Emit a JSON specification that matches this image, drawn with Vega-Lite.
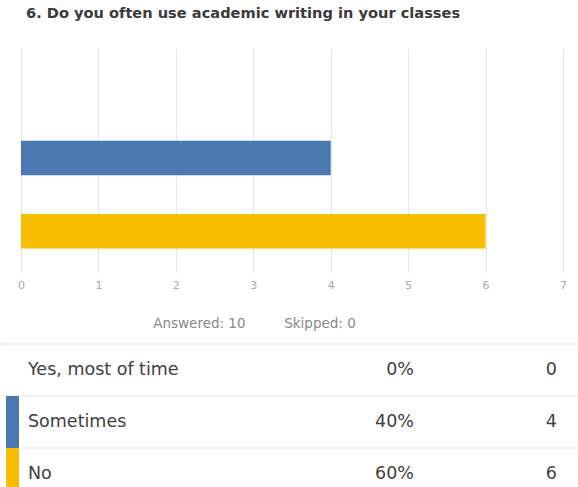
{
  "$schema": "https://vega.github.io/schema/vega-lite/v6.json",
  "padding": {"top": 5, "left": 0, "right": 0, "bottom": 0},
  "background": "white",
  "config": {"view": {"stroke": null}, "font": "DejaVu Sans"},
  "datasets": {
    "answers": [
      {"answer": "Yes, most of time", "count": 0, "percent": "0%"},
      {"answer": "Sometimes", "count": 4, "percent": "40%"},
      {"answer": "No", "count": 6, "percent": "60%"}
    ]
  },
  "spacing": 13,
  "vconcat": [
    {
      "width": 578,
      "height": 220,
      "data": {"name": "answers"},
      "title": {
        "text": "6. Do you often use academic writing in your classes",
        "anchor": "start",
        "dx": 25,
        "fontSize": 14.6,
        "fontWeight": "bold",
        "color": "#3a3a3a",
        "font": "DejaVu Sans",
        "offset": 27.5
      },
      "mark": {"type": "bar"},
      "encoding": {
        "y": {
          "field": "answer",
          "type": "nominal",
          "sort": ["Yes, most of time", "Sometimes", "No"],
          "scale": {"paddingInner": 0.53, "paddingOuter": 0.265},
          "axis": null
        },
        "x": {
          "field": "count",
          "type": "quantitative",
          "scale": {"domain": [-0.258, 7.206], "nice": false, "zero": false},
          "axis": {
            "values": [0, 1, 2, 3, 4, 5, 6, 7],
            "grid": true,
            "gridColor": "#e6e6e6",
            "domain": false,
            "ticks": true,
            "tickColor": "#e6e6e6",
            "tickSize": 4,
            "labelColor": "#a8a8a8",
            "labelFontSize": 11,
            "labelPadding": 7,
            "title": "Answered: 10\u00a0\u00a0\u00a0\u00a0\u00a0\u00a0\u00a0\u00a0\u00a0Skipped: 0",
            "titleColor": "#888888",
            "titleFontSize": 13.5,
            "titleFontWeight": "normal",
            "titleX": 253,
            "titleAlign": "center",
            "titlePadding": 26
          }
        },
        "x2": {"datum": 0},
        "color": {
          "field": "answer",
          "type": "nominal",
          "scale": {"domain": ["Yes, most of time", "Sometimes", "No"], "range": ["#2eb5b6", "#4a78b0", "#f8bd00"]},
          "legend": null
        }
      }
    },
    {
      "width": 578,
      "height": 156,
      "data": {"name": "answers"},
      "encoding": {
        "y": {
          "field": "answer",
          "type": "nominal",
          "sort": ["Yes, most of time", "Sometimes", "No"],
          "scale": {"paddingInner": 0, "paddingOuter": 0},
          "axis": null
        }
      },
      "layer": [
        {
          "mark": {"type": "rule", "color": "#e2e2e2", "strokeWidth": 1.2},
          "encoding": {
            "y": {"field": "answer", "type": "nominal", "sort": ["Yes, most of time", "Sometimes", "No"], "bandPosition": 0}
          }
        },
        {
          "transform": [{"filter": "datum.count > 0"}],
          "mark": {"type": "rect"},
          "encoding": {
            "x": {"datum": 5, "type": "quantitative", "scale": {"domain": [0, 578], "nice": false, "zero": false}, "axis": null},
            "x2": {"datum": 18},
            "color": {
              "field": "answer",
              "type": "nominal",
              "scale": {"domain": ["Yes, most of time", "Sometimes", "No"], "range": ["#2eb5b6", "#4a78b0", "#f8bd00"]},
              "legend": null
            }
          }
        },
        {
          "mark": {"type": "text", "align": "left", "baseline": "middle", "fontSize": 17.5, "color": "#404040"},
          "encoding": {
            "x": {"datum": 27, "type": "quantitative"},
            "text": {"field": "answer"}
          }
        },
        {
          "mark": {"type": "text", "align": "right", "baseline": "middle", "fontSize": 17.5, "color": "#404040"},
          "encoding": {
            "x": {"datum": 413, "type": "quantitative"},
            "text": {"field": "percent"}
          }
        },
        {
          "mark": {"type": "text", "align": "right", "baseline": "middle", "fontSize": 17.5, "color": "#404040"},
          "encoding": {
            "x": {"datum": 556, "type": "quantitative"},
            "text": {"field": "count"}
          }
        }
      ]
    }
  ]
}
